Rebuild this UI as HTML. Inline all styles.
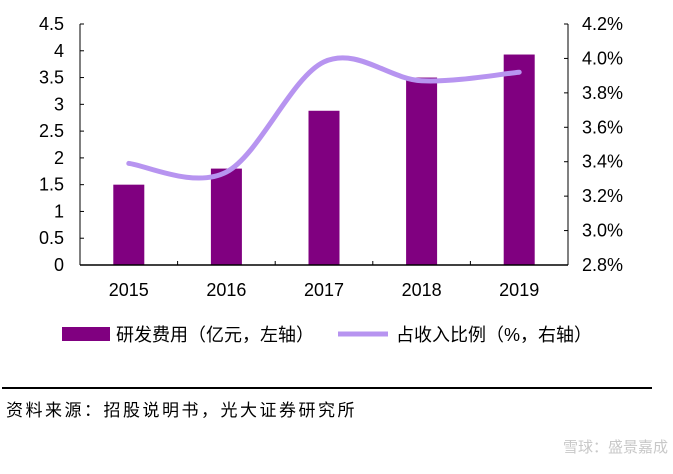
<!DOCTYPE html>
<html><head><meta charset="utf-8"><style>
body{margin:0;background:#fff;width:673px;height:469px;overflow:hidden;font-family:"Liberation Sans","Noto Sans CJK SC",sans-serif}
svg text{font-family:"Liberation Sans","Noto Sans CJK SC",sans-serif}
</style></head><body>
<svg id="c" width="673" height="469">
<g id="plot"></g>
<line x1="2" y1="388" x2="652" y2="388" stroke="#000" stroke-width="2"/>
<text x="6" y="416" font-size="17" letter-spacing="2.5" fill="#000">资料来源：招股说明书，光大证券研究所</text>
<text x="668" y="452" font-size="15" fill="#c8c8c8" text-anchor="end">雪球：盛景嘉成</text>
</svg>
<script>
const categories=["2015","2016","2017","2018","2019"];
const expense=[1.5,1.8,2.88,3.5,3.93];
const ratio=[3.39,3.34,3.98,3.87,3.92];
const leftTicks=["0","0.5","1","1.5","2","2.5","3","3.5","4","4.5"];
const rightTicks=["2.8%","3.0%","3.2%","3.4%","3.6%","3.8%","4.0%","4.2%"];
const NS="http://www.w3.org/2000/svg",g=document.getElementById('plot');
const L=80,R=568,T=24,B=265;
const x=i=>L+(R-L)/5*(i+0.5);
const yl=v=>B-(v/4.5)*(B-T);
const yr=v=>B-((v-2.8)/1.4)*(B-T);
function mk(t,a){const e=document.createElementNS(NS,t);for(const k in a)e.setAttribute(k,a[k]);g.appendChild(e);return e;}
let e;
expense.forEach((v,i)=>{e=mk('rect',{x:x(i)-15.5,y:yl(v),width:31,height:B-yl(v),fill:'#800080'});

});
e=mk('line',{x1:L,y1:T,x2:L,y2:B,stroke:'#000'});


e=mk('line',{x1:R,y1:T,x2:R,y2:B,stroke:'#000'});


e=mk('line',{x1:L,y1:B,x2:R,y2:B,stroke:'#000','stroke-width':1.5});


leftTicks.forEach((t,i)=>{const v=i*0.5,y=yl(v);mk('line',{x1:L,y1:y,x2:L+4,y2:y,stroke:'#000'});
e=mk('text',{x:L-16,y:y+6,'font-size':18,'text-anchor':'end',fill:'#000'});e.textContent=t;

});
rightTicks.forEach((t,i)=>{const y=yr(2.8+i*0.2);mk('line',{x1:R-4,y1:y,x2:R,y2:y,stroke:'#000'});
e=mk('text',{x:R+14,y:y+6,'font-size':18,fill:'#000'});e.textContent=t;

});
categories.forEach((c,i)=>{if(i>0)mk('line',{x1:L+(R-L)/5*i,y1:B,x2:L+(R-L)/5*i,y2:B-4,stroke:'#000'});
e=mk('text',{x:x(i),y:B+31,'font-size':18,'text-anchor':'middle',fill:'#000'});e.textContent=c;

});
const pts=ratio.map((v,i)=>[x(i),yr(v)]);
let d='M'+pts[0];
for(let i=0;i<pts.length-1;i++){const p0=pts[Math.max(0,i-1)],p1=pts[i],p2=pts[i+1],p3=pts[Math.min(pts.length-1,i+2)];
d+=` C${p1[0]+(p2[0]-p0[0])/6},${p1[1]+(p2[1]-p0[1])/6} ${p2[0]-(p3[0]-p1[0])/6},${p2[1]-(p3[1]-p1[1])/6} ${p2[0]},${p2[1]}`;}
e=mk('path',{d:d,fill:'none',stroke:'#b794f0','stroke-width':5,'stroke-linecap':'round'});


e=mk('rect',{x:62,y:327,width:48,height:14,fill:'#800080'});


e=mk('text',{x:116,y:341,'font-size':18,fill:'#000'});e.textContent='研发费用（亿元，左轴）';


e=mk('line',{x1:338,y1:334,x2:388,y2:334,stroke:'#b794f0','stroke-width':5});


e=mk('text',{x:396,y:341,'font-size':18,fill:'#000'});e.textContent='占收入比例（%，右轴）';


</script>
</body></html>
